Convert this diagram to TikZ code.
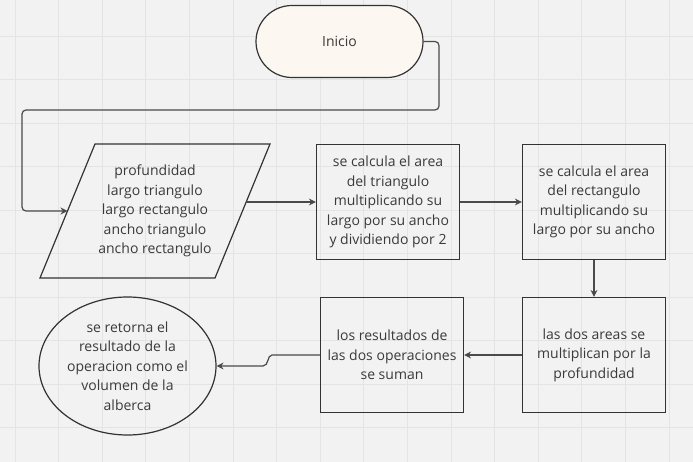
\documentclass[tikz,border=0pt]{standalone}
\usepackage{fontspec}
\setmainfont{Open Sans}
\usetikzlibrary{shapes.geometric,arrows.meta}
\definecolor{bg}{HTML}{F2F2F2}
\definecolor{gridc}{HTML}{E4E4E4}
\definecolor{ink}{HTML}{333333}
\definecolor{txt}{HTML}{3A3A3A}
\definecolor{cream}{HTML}{FCF8F1}
\definecolor{arr}{HTML}{4A4A4A}
\tikzset{
  every node/.style={text=txt, font=\fontsize{14}{19.5}\selectfont, align=center, inner sep=0pt},
  procbox/.style={draw=ink, line width=1.2pt, minimum width=143pt, minimum height=115pt},
  conn/.style={draw=arr, line width=1.2pt, -{Stealth[length=7pt,width=7pt]}},
  outline/.style={draw=ink, line width=1.2pt}
}
\begin{document}
\begin{tikzpicture}[x=1pt,y=-1pt]
\useasboundingbox (0,0) rectangle (693,462);
\fill[bg] (0,0) rectangle (693,462);
\foreach \i in {0,...,15} \draw[gridc, line width=0.8pt] (15+43.6*\i,0) -- (15+43.6*\i,462);
\foreach \j in {0,...,9} \draw[gridc, line width=0.8pt] (0,36+43.5*\j) -- (693,36+43.5*\j);

\node[outline, fill=cream, rounded corners=36pt, minimum width=167pt, minimum height=72pt] (inicio) at (339.5,41.5) {Inicio};

% parallelogram
\coordinate (p1) at (95,144);
\coordinate (p2) at (270,144);
\coordinate (p3) at (215,278);
\coordinate (p4) at (40,278);
\draw[outline] (p1) -- (p2) -- (p3) -- (p4) -- cycle;
\node (datos) at (155,211) {profundidad\\largo triangulo\\largo rectangulo\\ancho triangulo\\ancho rectangulo};
\coordinate (pin) at (67.5,211);
\coordinate (pout) at (246,202);

\node[procbox] (b1) at (388,202) {se calcula el area\\del triangulo\\multiplicando su\\largo por su ancho\\y dividiendo por 2};
\node[procbox] (b2) at (594,202) {se calcula el area\\del rectangulo\\multiplicando su\\largo por su ancho};
\node[procbox] (b3) at (594,355) {las dos areas se\\multiplican por la\\profundidad};
\node[procbox] (b4) at (392,355) {los resultados de\\las dos operaciones\\se suman};
\node[outline, ellipse, minimum width=177pt, minimum height=138pt] (fin) at (127.5,366) {se retorna el\\resultado de la\\operacion como el\\volumen de la\\alberca};

\draw[conn, rounded corners=4pt] (inicio.east) -- (439,41.5) -- (439,110) -- (22,110) -- (22,211) -- (pin);
\draw[conn] (pout) -- (b1.west |- pout);
\draw[conn] (b1.east |- pout) -- (b2.west |- pout);
\draw[conn] (b2.south) -- (b3.north);
\draw[conn] (b3.west) -- (b4.east);
\draw[conn] (b4.west) -- (272,355) .. controls (267,355) and (269,366) .. (263,366) -- (fin.east);
\end{tikzpicture}
\end{document}
